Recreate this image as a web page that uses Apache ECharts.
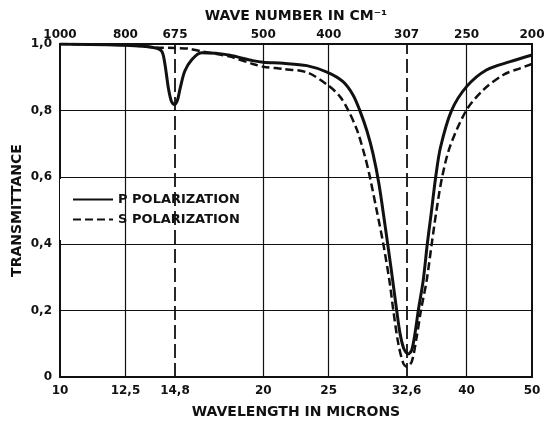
<!DOCTYPE html>
<html>
<head>
<meta charset="utf-8">
<script src="https://cdn.jsdelivr.net/npm/echarts@6/dist/echarts.min.js"></script>
<style>
html, body { margin: 0; padding: 0; background: #fff; }
#chart { width: 547px; height: 421px; }
</style>
</head>
<body>
<div id="chart"></div>
<script>
// wavelength ticks (microns) and the matching wave numbers on top
var wavelengthTicks = [10, 12.5, 14.8, 20, 25, 32.6, 40, 50];
var waveNumberLabels = ['1000', '800', '675', '500', '400', '307', '250', '200'];
var gridLinesX = [12.5, 20, 25, 40];
var bandLinesX = [14.8, 32.6];

// [wavelength, transmittance]
var pPolarization = [
    [10, 1.0], [12.5, 0.996], [13.8, 0.989], [14.15, 0.978], [14.3, 0.94],
    [14.47, 0.868], [14.62, 0.828], [14.77, 0.818], [14.92, 0.83], [15.06, 0.866],
    [15.3, 0.918], [15.67, 0.953], [16.2, 0.974], [17.0, 0.972], [17.85, 0.966],
    [19.3, 0.950], [20, 0.945], [21.4, 0.942], [23.2, 0.935], [24.9, 0.915],
    [26.25, 0.887], [27.16, 0.847], [27.8, 0.80], [28.49, 0.738], [29.08, 0.67],
    [29.68, 0.578], [30.29, 0.456], [30.92, 0.327], [31.52, 0.20],
    [31.88, 0.131], [32.3, 0.085], [32.79, 0.069], [33.18, 0.081], [33.55, 0.131],
    [33.93, 0.20], [34.51, 0.291], [34.99, 0.40], [35.45, 0.49], [36.0, 0.60],
    [36.6, 0.69], [38.0, 0.80], [40.0, 0.872], [42.8, 0.922], [46.4, 0.947], [50, 0.967]
];
var sPolarization = [
    [10, 1.0], [12.5, 0.997], [13.8, 0.99], [14.8, 0.988], [15.5, 0.986],
    [16.2, 0.978], [17.85, 0.962], [19.3, 0.940], [20, 0.932], [21.4, 0.925],
    [23.2, 0.915], [24.9, 0.877], [25.98, 0.842], [26.7, 0.802], [27.53, 0.742],
    [28.29, 0.662], [28.7, 0.61], [29.44, 0.501], [30.11, 0.40], [30.74, 0.291],
    [31.16, 0.20], [31.69, 0.101], [32.24, 0.041], [32.61, 0.031], [33.18, 0.046],
    [33.75, 0.121], [34.24, 0.20], [34.92, 0.291], [35.52, 0.40], [36.1, 0.50],
    [36.8, 0.60], [37.8, 0.692], [40.0, 0.802], [42.35, 0.862], [45.3, 0.907],
    [48.0, 0.927], [50, 0.94]
];

var FONT = 'DejaVu Sans';
var INK = '#111';

function tickIndex(v) {
    var best = 0;
    for (var i = 1; i < wavelengthTicks.length; i++) {
        if (Math.abs(Math.log(v) - Math.log(wavelengthTicks[i])) <
            Math.abs(Math.log(v) - Math.log(wavelengthTicks[best]))) best = i;
    }
    return best;
}

var vLines = [];
gridLinesX.forEach(function (x) {
    vLines.push({ xAxis: x, lineStyle: { color: INK, width: 1.2, type: 'solid' } });
});
bandLinesX.forEach(function (x) {
    vLines.push({ xAxis: x, lineStyle: { color: INK, width: 1.8, type: [14, 5] } });
});

var chart = echarts.init(document.getElementById('chart'));
chart.setOption({
    animation: false,
    backgroundColor: '#fff',
    textStyle: { fontFamily: FONT, color: INK },
    grid: {
        left: 60, right: 15, top: 44, bottom: 44,
        outerBoundsMode: 'none',
        show: true, borderColor: INK, borderWidth: 2, backgroundColor: 'transparent'
    },
    legend: {
        left: 60, top: 179,
        orient: 'vertical',
        backgroundColor: '#fff',
        padding: [14, 16, 14, 12],
        itemWidth: 40, itemHeight: 14, itemGap: 7,
        itemStyle: { opacity: 0 },
        textStyle: { fontFamily: FONT, fontWeight: 'bold', fontSize: 13, color: INK },
        data: ['P POLARIZATION', 'S POLARIZATION']
    },
    xAxis: [{
        type: 'log', min: 10, max: 50, position: 'bottom',
        name: 'WAVELENGTH IN MICRONS', nameLocation: 'middle', nameGap: 28,
        nameTextStyle: { fontFamily: FONT, fontWeight: 'bold', fontSize: 14, color: INK },
        axisLine: { show: false },
        axisTick: { show: false },
        splitLine: { show: false },
        axisLabel: {
            customValues: wavelengthTicks,
            margin: 8,
            fontFamily: FONT, fontWeight: 'bold', fontSize: 12, color: INK,
            formatter: function (v) { return String(wavelengthTicks[tickIndex(v)]).replace('.', ','); }
        }
    }, {
        type: 'log', min: 10, max: 50, position: 'top',
        name: 'WAVE NUMBER IN CM⁻¹', nameLocation: 'middle', nameGap: 21,
        nameTextStyle: { fontFamily: FONT, fontWeight: 'bold', fontSize: 14, color: INK },
        axisLine: { show: false },
        axisTick: { show: false },
        splitLine: { show: false },
        axisLabel: {
            customValues: wavelengthTicks,
            margin: 3,
            fontFamily: FONT, fontWeight: 'bold', fontSize: 12, color: INK,
            formatter: function (v) { return waveNumberLabels[tickIndex(v)]; }
        }
    }],
    yAxis: {
        type: 'value', min: 0, max: 1, interval: 0.2,
        name: 'TRANSMITTANCE', nameLocation: 'middle', nameGap: 36,
        nameMoveOverlap: false,
        nameTextStyle: { fontFamily: FONT, fontWeight: 'bold', fontSize: 14, color: INK },
        axisLine: { show: false },
        axisTick: { show: false },
        splitLine: { lineStyle: { color: INK, width: 1.2 } },
        axisLabel: {
            margin: 8,
            fontFamily: FONT, fontWeight: 'bold', fontSize: 12, color: INK,
            formatter: function (v) { return v === 0 ? '0' : v.toFixed(1).replace('.', ','); }
        }
    },
    series: [{
        name: 'P POLARIZATION',
        type: 'line',
        xAxisIndex: 0,
        data: pPolarization,
        showSymbol: false, symbol: 'none',
        smooth: 0.3,
        lineStyle: { color: INK, width: 3, type: 'solid' },
        itemStyle: { color: INK },
        markLine: {
            silent: true, symbol: 'none',
            label: { show: false },
            data: vLines
        },
        z: 3
    }, {
        name: 'S POLARIZATION',
        type: 'line',
        xAxisIndex: 0,
        data: sPolarization,
        showSymbol: false, symbol: 'none',
        smooth: 0.3,
        lineStyle: { color: INK, width: 2.5, type: [8, 4] },
        itemStyle: { color: INK },
        z: 3
    }]
});
</script>
</body>
</html>
